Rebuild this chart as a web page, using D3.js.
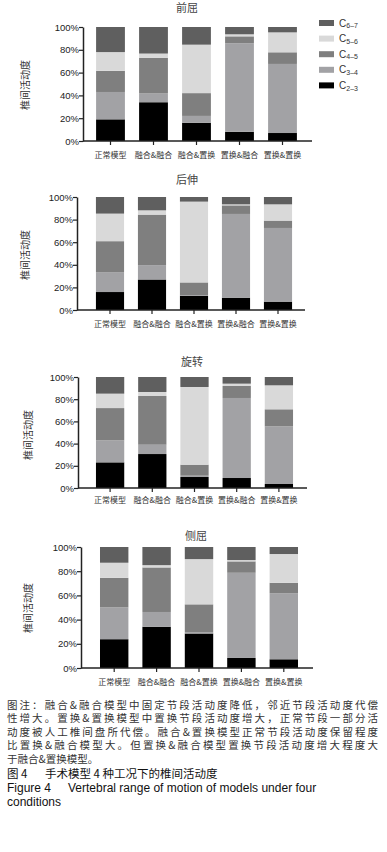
<!DOCTYPE html>
<html>
<head>
<meta charset="utf-8">
<script src="https://cdnjs.cloudflare.com/ajax/libs/d3/7.8.5/d3.min.js"></script>
<style>
  body { margin: 0; background: #fff; }
  svg { display: block; font-family: "Liberation Sans", Arial, "Noto Sans CJK SC", sans-serif; }
</style>
</head>
<body>
<svg id="chart" width="387" height="852"></svg>
<script>
// categories and series
var categories = ['正常模型', '融合&融合', '融合&置换', '置换&融合', '置换&置换'];
var seriesKeys = ['c23', 'c34', 'c45', 'c56', 'c67'];
var seriesSubs = ['2–3', '3–4', '4–5', '5–6', '6–7'];
var seriesColors = ['#000000', '#a2a2a5', '#7f7f7f', '#d9d9d9', '#5f5f5f'];
var yTicks = [0, 20, 40, 60, 80, 100];

// 前屈 (percent of range of motion per segment)
var flexC23 = [19, 34, 16, 8, 7];
var flexC34 = [24, 8, 6, 77.7, 60.6];
var flexC45 = [18.5, 31, 20, 6.1, 10.2];
var flexC56 = [16.5, 3.7, 42.5, 1.8, 17.5];
var flexC67 = [22, 23.3, 15.5, 6.4, 4.7];

// 后伸
var extC23 = [15.9, 27, 12.6, 10.9, 7.4];
var extC34 = [17.6, 12.7, 0.5, 74.1, 65.2];
var extC45 = [27.4, 44.7, 11.3, 7.6, 6.5];
var extC56 = [24.4, 3.8, 71.5, 0.9, 14.4];
var extC67 = [14.7, 11.8, 4.1, 6.5, 6.5];

// 旋转
var rotC23 = [23.1, 30.6, 9.9, 9, 3.6];
var rotC34 = [19.8, 8.4, 1.2, 72.1, 52];
var rotC45 = [29.1, 43.9, 9.9, 10.8, 15.3];
var rotC56 = [13, 3.6, 70, 2.1, 21.6];
var rotC67 = [15, 13.5, 9, 6, 7.5];

// 侧屈
var latC23 = [23.8, 34.1, 28.5, 8.3, 7.2];
var latC34 = [26.3, 12.2, 1.1, 70.4, 54.6];
var latC45 = [24.4, 36.8, 23, 9.4, 8.6];
var latC56 = [12.5, 1.9, 37.4, 1.1, 23.8];
var latC67 = [13, 15, 10, 10.8, 5.8];

var captionLines = [
  '图注：融合&融合模型中固定节段活动度降低，邻近节段活动度代偿',
  '性增大。置换&置换模型中置换节段活动度增大，正常节段一部分活',
  '动度被人工椎间盘所代偿。融合&置换模型正常节段活动度保留程度',
  '比置换&融合模型大。但置换&融合模型置换节段活动度增大程度大',
  '于融合&置换模型。'
];

function rows(a, b, c, d, e) {
  return categories.map((cat, i) => ({cat: cat, c23: a[i], c34: b[i], c45: c[i], c56: d[i], c67: e[i]}));
}

var panels = [
  {title: '前屈', data: rows(flexC23, flexC34, flexC45, flexC56, flexC67),
   y100: 27, y0: 141, axisX: 83, xEnd: 312, band: [89, 304], titleX: 187, titleY: 8, labX: 25, labY: 85, catY: 155, legend: true},
  {title: '后伸', data: rows(extC23, extC34, extC45, extC56, extC67),
   y100: 197, y0: 310, axisX: 77, xEnd: 305, band: [89, 299], titleX: 187, titleY: 180, labX: 25, labY: 255, catY: 324},
  {title: '旋转', data: rows(rotC23, rotC34, rotC45, rotC56, rotC67),
   y100: 377, y0: 488, axisX: 78, xEnd: 307, band: [89, 300], titleX: 192, titleY: 362, labX: 28, labY: 435, catY: 500},
  {title: '侧屈', data: rows(latC23, latC34, latC45, latC56, latC67),
   y100: 547, y0: 668, axisX: 81, xEnd: 313, band: [93, 305], titleX: 196, titleY: 536, labX: 28, labY: 608, catY: 682}
];

var svg = d3.select('#chart');
var stack = d3.stack().keys(seriesKeys);

panels.forEach(p => {
  var g = svg.append('g');
  var x = d3.scaleBand().domain(categories).range(p.band).paddingInner(0.33).paddingOuter(0.165);
  var y = d3.scaleLinear().domain([0, 100]).range([p.y0, p.y100]);

  g.selectAll('g.layer')
    .data(stack(p.data))
    .enter()
    .append('g')
    .attr('class', 'layer')
    .style('fill', (d, i) => seriesColors[i])
    .selectAll('rect')
    .data(d => d)
    .enter()
    .append('rect')
    .attr('x', d => x(d.data.cat))
    .attr('width', x.bandwidth())
    .attr('y', d => y(d[1]))
    .attr('height', d => y(d[0]) - y(d[1]));

  // y axis
  var ya = g.append('g')
    .attr('transform', `translate(${p.axisX},0)`)
    .call(d3.axisLeft(y).tickValues(yTicks).tickFormat(d => d + '%').tickSize(4).tickSizeOuter(0));
  ya.select('.domain').attr('stroke', '#222').attr('stroke-width', 1.5);
  ya.selectAll('.tick line').attr('stroke', '#222').attr('stroke-width', 1.2);
  ya.selectAll('.tick text').attr('font-size', 9.5).attr('fill', '#222').attr('x', -4);

  // x axis
  g.append('line')
    .attr('x1', p.axisX).attr('x2', p.xEnd)
    .attr('y1', p.y0).attr('y2', p.y0)
    .attr('stroke', '#222').attr('stroke-width', 1.5);
  g.selectAll('line.xt')
    .data(categories)
    .enter()
    .append('line')
    .attr('class', 'xt')
    .attr('x1', d => x(d) + x.bandwidth() / 2).attr('x2', d => x(d) + x.bandwidth() / 2)
    .attr('y1', p.y0).attr('y2', p.y0 + 4)
    .attr('stroke', '#222').attr('stroke-width', 1.2);
  g.selectAll('text.cat')
    .data(categories)
    .enter()
    .append('text')
    .attr('class', 'cat')
    .attr('x', d => x(d) + x.bandwidth() / 2)
    .attr('y', p.catY)
    .attr('dy', '0.35em')
    .attr('text-anchor', 'middle')
    .attr('font-size', 8)
    .attr('font-family', '"Noto Sans CJK SC", sans-serif')
    .attr('fill', '#333')
    .text(d => d);

  g.append('text')
    .attr('x', p.titleX).attr('y', p.titleY).attr('dy', '0.35em')
    .attr('text-anchor', 'middle')
    .attr('font-size', 11)
    .attr('font-family', '"Noto Sans CJK SC", sans-serif')
    .attr('fill', '#444')
    .text(p.title);

  g.append('text')
    .attr('transform', `translate(${p.labX},${p.labY}) rotate(-90)`)
    .attr('dy', '0.35em')
    .attr('text-anchor', 'middle')
    .attr('font-size', 10)
    .attr('font-family', '"Noto Sans CJK SC", sans-serif')
    .attr('fill', '#333')
    .text('椎间活动度');

  if (p.legend) {
    var lg = g.selectAll('g.leg')
      .data(seriesKeys.slice().reverse())
      .enter()
      .append('g')
      .attr('class', 'leg')
      .attr('transform', (d, i) => `translate(319,${23 + i * 15.6})`);
    lg.append('rect')
      .attr('x', 0).attr('y', -3).attr('width', 15).attr('height', 6)
      .style('fill', d => seriesColors[seriesKeys.indexOf(d)]);
    var lt = lg.append('text')
      .attr('x', 20).attr('y', 0).attr('dy', '0.35em')
      .attr('font-size', 10).attr('fill', '#333');
    lt.append('tspan').text('C');
    lt.append('tspan')
      .attr('font-size', 7).attr('dy', '0.25em')
      .text(d => seriesSubs[seriesKeys.indexOf(d)]);
  }
});

// caption
var cap = svg.append('g').attr('font-family', '"Noto Sans CJK SC", sans-serif').attr('fill', '#333');
cap.selectAll('text.note')
  .data(captionLines)
  .enter()
  .append('text')
  .attr('class', 'note')
  .attr('x', 7)
  .attr('y', (d, i) => 705 + i * 13.5)
  .attr('dy', '0.35em')
  .attr('font-size', 10.5)
  .attr('textLength', (d, i) => i < 4 ? 371 : null)
  .attr('lengthAdjust', 'spacing')
  .text(d => d);

var figCn = cap.append('text')
  .attr('y', 774).attr('dy', '0.35em')
  .attr('font-size', 11.5).attr('fill', '#111');
figCn.append('tspan').attr('x', 7).text('图 4');
figCn.append('tspan').attr('x', 45).text('手术模型 4 种工况下的椎间活动度');

var en = cap.append('g').attr('font-family', '"Liberation Sans", Arial, sans-serif').attr('fill', '#111');
var figEn = en.append('text')
  .attr('y', 788).attr('dy', '0.35em')
  .attr('font-size', 12);
figEn.append('tspan').attr('x', 7).text('Figure 4');
figEn.append('tspan').attr('x', 68).text('Vertebral range of motion of models under four');
en.append('text')
  .attr('x', 7).attr('y', 802).attr('dy', '0.35em')
  .attr('font-size', 12)
  .text('conditions');
</script>
</body>
</html>
